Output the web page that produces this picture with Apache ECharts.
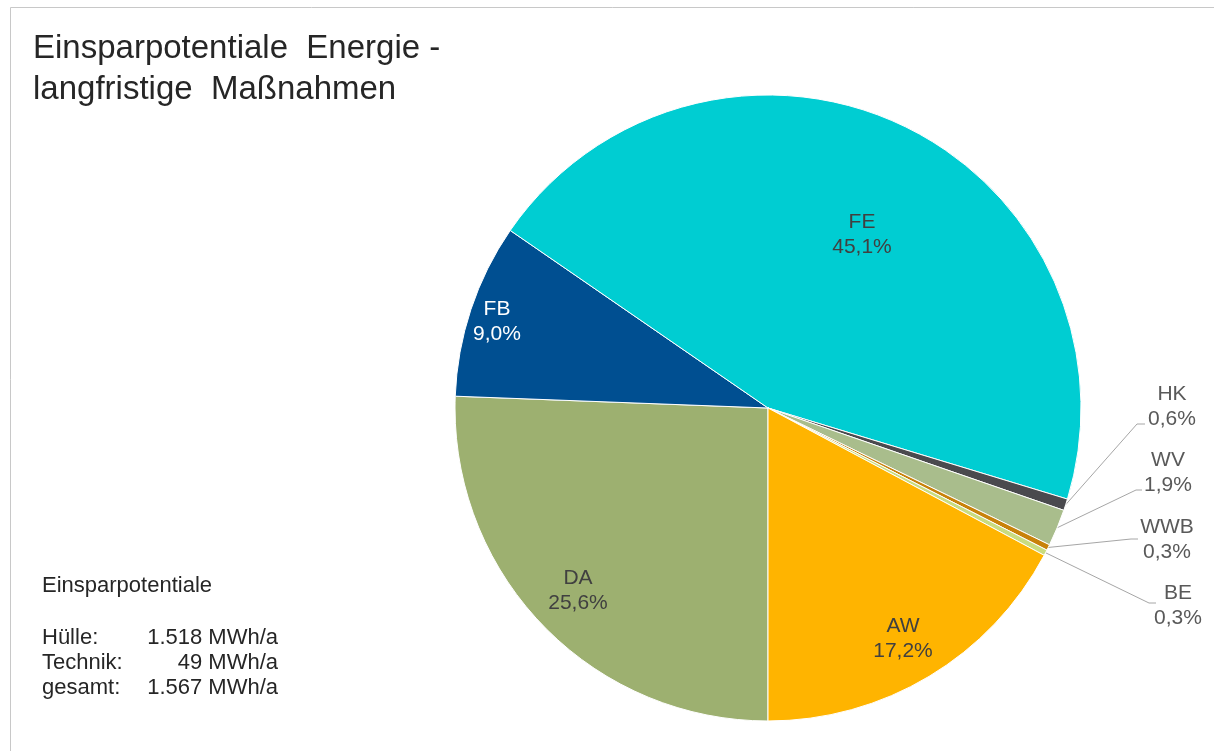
<!DOCTYPE html>
<html>
<head>
<meta charset="utf-8">
<script src="https://cdn.jsdelivr.net/npm/echarts@6/dist/echarts.min.js"></script>
<style>
html,body{margin:0;padding:0;background:#fff;}
#c{width:1214px;height:751px;}
</style>
</head>
<body>
<div id="c"></div>
<script>
// ---- data ----
var categories = ['DA', 'FB', 'FE', 'HK', 'WV', 'WWB', 'BE', 'AW'];
var shares = [25.6, 9.0, 45.1, 0.6, 1.9, 0.3, 0.3, 17.2];
var noteTitle = 'Einsparpotentiale';
var noteLabels = ['Hülle:', 'Technik:', 'gesamt:'];
var noteValues = ['1.518 MWh/a', '49 MWh/a', '1.567 MWh/a'];

// ---- styles ----
var colors = {
  DA: '#9db070', FB: '#004f91', FE: '#00cdd2', HK: '#4a4a4e',
  WV: '#a9bd8c', WWB: '#c8820a', BE: '#c9dc80', AW: '#ffb400'
};
var insideLabelColor = { DA: '#404040', FB: '#ffffff', FE: '#404040', AW: '#404040' };
var outsideSet = { HK: 1, WV: 1, WWB: 1, BE: 1 };
// label anchor layout (label centre, and for outside labels the leader corner / end)
var labelPos = {
  FE: { c: [862, 235] },
  FB: { c: [497, 322] },
  DA: { c: [578, 591] },
  AW: { c: [903, 639] },
  HK: { c: [1172, 407], corner: [1137, 424], end: [1145, 424] },
  WV: { c: [1168, 473], corner: [1136, 490], end: [1142, 490] },
  WWB: { c: [1167, 540], corner: [1131, 539], end: [1138, 539] },
  BE: { c: [1178, 606], corner: [1149, 603], end: [1156, 603] }
};
var FONT = '"Liberation Sans", Arial, sans-serif';
var TEXT_COLOR = '#262626';

function fmt(v) { return v.toFixed(1).replace('.', ',') + '%'; }

var dataItems = categories.map(function (name, i) {
  var outside = !!outsideSet[name];
  return {
    name: name,
    value: shares[i],
    itemStyle: { color: colors[name] },
    label: {
      position: outside ? 'outside' : 'inside',
      color: outside ? '#595959' : insideLabelColor[name]
    },
    labelLine: { show: outside }
  };
});

var chart = echarts.init(document.getElementById('c'), null, { renderer: 'canvas' });

var noteGraphics = [];
noteGraphics.push({
  type: 'text', x: 42, y: 586,
  style: { text: noteTitle, font: '22px ' + FONT, fill: TEXT_COLOR, textVerticalAlign: 'middle' }
});
noteLabels.forEach(function (t, i) {
  var yy = 638 + i * 24.8;
  noteGraphics.push({
    type: 'text', x: 42, y: yy,
    style: { text: t, font: '22px ' + FONT, fill: TEXT_COLOR, textVerticalAlign: 'middle' }
  });
  noteGraphics.push({
    type: 'text', x: 278, y: yy,
    style: { text: noteValues[i], font: '22px ' + FONT, fill: TEXT_COLOR, textAlign: 'right', textVerticalAlign: 'middle' }
  });
});

chart.setOption({
  backgroundColor: '#ffffff',
  animation: false,
  title: {
    text: 'Einsparpotentiale  Energie -\nlangfristige  Maßnahmen',
    left: 28, top: 23,
    textStyle: { fontFamily: FONT, fontSize: 33, fontWeight: 'normal', color: TEXT_COLOR, lineHeight: 41 }
  },
  graphic: [
    {
      type: 'rect', silent: true, z: -1,
      shape: { x: 10.5, y: 7.5, width: 1400, height: 900 },
      style: { fill: 'none', stroke: '#c8c8c8', lineWidth: 1 }
    }
  ].concat(noteGraphics),
  series: [{
    type: 'pie',
    center: [768, 408],
    radius: [0, 313],
    startAngle: -90,
    clockwise: true,
    avoidLabelOverlap: false,
    data: dataItems,
    itemStyle: { borderColor: '#ffffff', borderWidth: 1 },
    label: {
      show: true,
      fontFamily: FONT,
      fontSize: 21,
      lineHeight: 25,
      align: 'center',
      formatter: function (p) { return p.name + '\n' + fmt(p.value); }
    },
    labelLine: {
      show: false,
      lineStyle: { color: '#a6a6a6', width: 1 }
    },
    labelLayout: function (params) {
      var name = categories[params.dataIndex];
      var pos = labelPos[name];
      var res = { x: pos.c[0], y: pos.c[1], align: 'center', verticalAlign: 'middle' };
      if (pos.corner && params.labelLinePoints) {
        res.labelLinePoints = [params.labelLinePoints[0], pos.corner, pos.end];
      }
      return res;
    }
  }]
});
</script>
</body>
</html>
